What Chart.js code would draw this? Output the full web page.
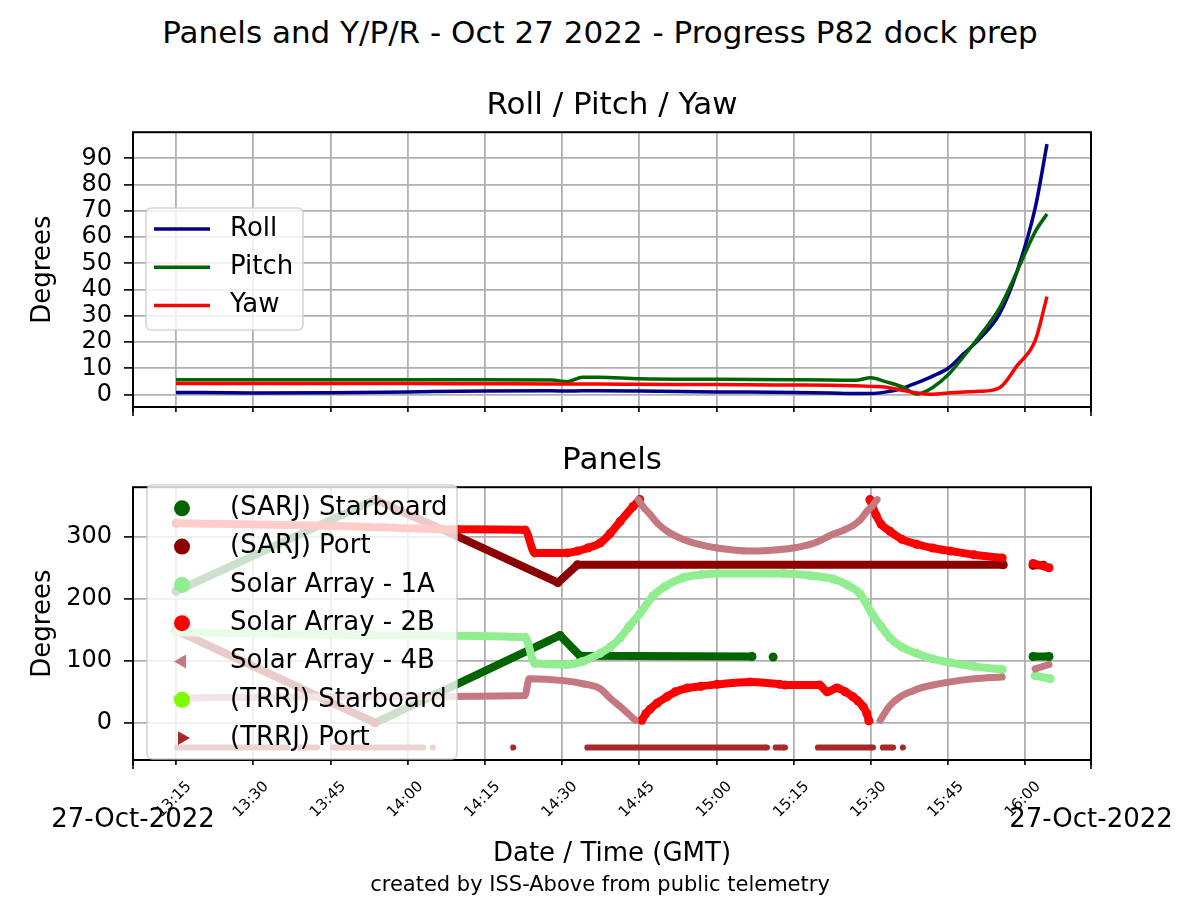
<!DOCTYPE html>
<html>
<head>
<meta charset="utf-8">
<title>Panels and Y/P/R - Oct 27 2022 - Progress P82 dock prep</title>
<script src="https://cdn.jsdelivr.net/npm/chart.js@4.4.1/dist/chart.umd.min.js"></script>
<style>
  body { margin: 0; background: #fff; font-family: 'DejaVu Sans', sans-serif; }
  #page { position: relative; width: 1200px; height: 900px; overflow: hidden; background: #fff; }
  canvas { position: absolute; left: 0; }
  .txt { position: absolute; white-space: nowrap; color: #000; transform: translateX(-50%); }
</style>
</head>
<body>
<div id="page">
  <div class="txt" style="left:600px; top:14px; font-size:31px; line-height:36px;">Panels and Y/P/R - Oct 27 2022 - Progress P82 dock prep</div>
  <canvas id="yprChart" width="1200" height="380" style="top:60px"></canvas>
  <canvas id="panelsChart" width="1200" height="460" style="top:440px"></canvas>
  <div class="txt" style="left:133px; top:803px; font-size:26px; line-height:30px;">27-Oct-2022</div>
  <div class="txt" style="left:1091px; top:803px; font-size:26px; line-height:30px;">27-Oct-2022</div>
  <div class="txt" style="left:600px; top:872px; font-size:21px; line-height:24px;">created by ISS-Above from public telemetry</div>
</div>
<script>
// time is in minutes after 13:00 GMT
const timeTicks = ['13:15', '13:30', '13:45', '14:00', '14:15', '14:30', '14:45', '15:00', '15:15', '15:30', '15:45', '16:00'];
const xMin = 6.65, xMax = 192.75;

// Roll / Pitch / Yaw
const yprTime = [15, 30, 45, 60, 75, 88, 91, 94, 97, 105, 120, 135, 142, 147, 150, 153, 156, 159, 162, 165, 168, 171, 175, 178.4, 181.9, 184.2];
const roll  = [0.8, 0.6, 0.7, 1.0, 1.3, 1.4, 1.3, 1.4, 1.4, 1.3, 1.0, 0.8, 0.6, 0.4, 0.4, 1.0, 2.3, 4.5, 7.0, 10.0, 15.5, 21.0, 30.8, 47.0, 71.0, 95.4];
const pitch = [5.6, 5.6, 5.6, 5.6, 5.6, 5.5, 4.9, 6.6, 6.6, 6.0, 5.8, 5.6, 5.5, 5.4, 6.4, 4.8, 3.0, 0.2, 2.7, 7.5, 14.5, 22.0, 33.0, 47.0, 62.0, 68.8];
const yaw   = [4.2, 4.2, 4.2, 4.2, 4.1, 4.0, 4.0, 4.0, 4.0, 3.9, 3.8, 3.6, 3.5, 3.3, 3.1, 2.8, 1.6, 0.6, 0.1, 0.6, 1.0, 1.2, 2.6, 11.0, 20.5, 37.3];

// Panels (null = gap / wrap-around)
const sarjStbdT = [15, 53.7, 53.7, 53.7, 89.6, 93.5, 126.9, 129, 131, 133, 181.5, 184.6];
const sarjStbdV = [212, 360, null, 0, 141, 108, 107, null, 106, null, 107, 107];

const sarjPortT = [15, 53.7, 53.7, 53.7, 69.6, 89.2, 93, 175.7, 178, 181.5, 183.5];
const sarjPortV = [149, 0, null, 360, 301, 226, 255, 255, null, 254, 254];

const array1AT = [15, 60, 82.8, 84.7, 91, 94, 97.4, 99.3, 101.3, 103, 105.1, 107.7, 110, 113.5, 117, 120.1, 132.9, 138, 142.6, 145.5, 147.9, 150.2, 152, 153.7, 156, 158.9, 162, 165.4, 170, 175.5, 178, 181.9, 184.8];
const array1AV = [146, 141, 138, 96, 94, 99, 112, 122, 137, 155, 176, 205, 220, 234, 239, 241, 241, 238, 232, 222, 208, 176, 155, 137, 122, 112, 103, 97, 91, 86, null, 76, 71];

const array2BT = [15, 45, 69.6, 82.8, 84.7, 91, 93, 95, 97.4, 99.3, 101.3, 103.8, 105.1, 105.3,
                  105.5, 106.3, 107.1, 108.5, 110.4, 112, 114.3, 117, 120.1, 126.5, 132.3, 132.8,
                  133.3, 140, 141.5, 143.4, 145, 146.5, 147.5, 148.5, 149.2, 149.6, 149.7,
                  149.8, 151, 152, 153.7, 156, 158.9, 162, 165.4, 170, 175.5, 178, 181.5, 184.6];
const array2BV = [322, 318, 312, 311, 274, 274, 277, 282, 290, 305, 325, 349, 360, null,
                  4, 15, 22, 32, 42, 50, 56, 59, 62, 66, 62, null,
                  61, 61, 50, 56, 50, 42, 35, 26, 15, 3, null,
                  360, 335, 320, 309, 296, 288, 282, 277, 271, 266, null, 257, 250];

const array4BT = [15, 45, 82.8, 83.6, 90.2, 94, 97.4, 99.3, 101.3, 102.8, 104.2, 104.6,
                  104.8, 105.8, 107, 108.5, 110.4, 113.5, 116, 120.1, 126.5, 130, 134.9, 139, 142.6, 144.5, 146.5, 148, 149.2, 150.3, 151.2, 151.5,
                  151.8, 152.7, 153.7, 155.7, 158, 160, 165.4, 170, 175.5, 178, 181.9, 184.6];
const array4BV = [40, 42, 44, 71, 68, 63, 55, 40, 26, 15, 4, null,
                  360, 348, 337, 322, 309, 296, 289, 282, 277, 278, 282, 290, 304, 310, 318, 328, 341, 350, 360, null,
                  4, 16, 28, 42, 51, 57, 66, 71, 74, null, 87, 94];

const trrjStbdT = [];
const trrjStbdV = [];

const trrjPortT = [15.2, 36.6, 37.5, 39.1, 42.4, 43.5, 45.5, 63, 64, 64.9, 66, 80.5, 82, 94.9, 129.8, 130.5, 131.5, 133.3, 136, 139.7, 150.4, 151.5, 152.3, 154.3, 155, 156.2];
const trrjPortV = [-40, -40, null, -40, -40, null, -40, -40, null, -40, null, -40, null, -40, -40, null, -40, -40, null, -40, -40, null, -40, -40, null, -40];

Chart.defaults.font.family = "'DejaVu Sans', sans-serif";
Chart.defaults.color = '#000';

const tickMinutes = timeTicks.map(s => { const [h, m] = s.split(':').map(Number); return h * 60 + m - 780; });
const pts = (t, v) => t.map((x, i) => ({ x: x, y: v[i] }));

function roundRect(ctx, x, y, w, h, r) {
    ctx.beginPath();
    ctx.moveTo(x + r, y);
    ctx.arcTo(x + w, y, x + w, y + h, r);
    ctx.arcTo(x + w, y + h, x, y + h, r);
    ctx.arcTo(x, y + h, x, y, r);
    ctx.arcTo(x, y, x + w, y, r);
    ctx.closePath();
}

function drawMarker(ctx, style, rot, x, y, r, color) {
    ctx.fillStyle = color;
    ctx.beginPath();
    if (style === 'triangle') {
        for (let k = 0; k < 3; k++) {
            const a = (rot + k * 120) * Math.PI / 180;
            const px = x + r * Math.sin(a), py = y - r * Math.cos(a);
            if (k === 0) ctx.moveTo(px, py); else ctx.lineTo(px, py);
        }
        ctx.closePath();
    } else {
        ctx.arc(x, y, r, 0, Math.PI * 2);
    }
    ctx.fill();
}

// matplotlib-like frame, end ticks and legend box
const mplPlugin = {
    id: 'mpl',
    afterDatasetsDraw(chart, args, opts) {
        const { ctx, chartArea: a } = chart;
        ctx.save();
        ctx.strokeStyle = '#000';
        ctx.lineWidth = 2;
        ctx.strokeRect(a.left, a.top, a.right - a.left, a.bottom - a.top);
        ctx.beginPath();
        [a.left, a.right].forEach(x => { ctx.moveTo(x, a.bottom); ctx.lineTo(x, a.bottom + 9); });
        ctx.lineWidth = 1.6;
        ctx.stroke();

        const lg = opts.box;
        if (lg) {
            roundRect(ctx, lg.x, lg.y, lg.w, lg.h, 5);
            ctx.fillStyle = 'rgba(255,255,255,0.8)';
            ctx.fill();
            ctx.strokeStyle = 'rgba(204,204,204,0.8)';
            ctx.lineWidth = 1.6;
            ctx.stroke();
            ctx.font = "26px 'DejaVu Sans'";
            ctx.textBaseline = 'middle';
            chart.data.datasets.forEach((ds, i) => {
                const y = lg.firstRow + i * lg.rowH;
                if (lg.kind === 'line') {
                    ctx.strokeStyle = ds.borderColor;
                    ctx.lineWidth = 3.5;
                    ctx.beginPath();
                    ctx.moveTo(lg.markX - 28, y);
                    ctx.lineTo(lg.markX + 28, y);
                    ctx.stroke();
                } else {
                    drawMarker(ctx, ds.pointStyle, ds.pointRotation || 0, lg.markX, y, 8, ds.borderColor);
                }
                ctx.fillStyle = '#000';
                ctx.fillText(ds.label, lg.textX, y);
            });
        }
        ctx.restore();
    }
};

const gridStyle = { color: '#b0b0b0', lineWidth: 1.8, tickColor: '#000', tickWidth: 1.6 };

function xScale(showLabels, height, withTitle) {
    return {
        type: 'linear',
        min: xMin,
        max: xMax,
        afterBuildTicks: s => { s.ticks = [xMin, ...tickMinutes, xMax].map(v => ({ value: v })); },
        afterFit: s => { s.height = height; },
        border: { display: false },
        grid: Object.assign({ tickLength: 5 }, gridStyle),
        ticks: {
            display: showLabels,
            autoSkip: false,
            minRotation: 45,
            maxRotation: 45,
            labelOffset: 13,
            padding: 13,
            font: { size: 15 },
            callback: (v, i, ticks) => (i === 0 || i === ticks.length - 1) ? '' : timeTicks[i - 1]
        },
        title: withTitle ? { display: true, text: 'Date / Time (GMT)', font: { size: 26 }, padding: { top: 0, bottom: 30 } } : { display: false }
    };
}

function yScale(min, max, tickVals) {
    return {
        min: min,
        max: max,
        afterBuildTicks: s => { s.ticks = tickVals.map(v => ({ value: v })); },
        afterFit: s => { s.width = 133; },
        border: { display: false },
        grid: Object.assign({ tickLength: 9 }, gridStyle),
        ticks: { font: { size: 24 }, padding: 12, autoSkip: false },
        title: { display: true, text: 'Degrees', font: { size: 26 }, padding: { top: 28, bottom: 0 } }
    };
}

function lineSet(label, values, color, i) {
    return {
        label: label,
        data: pts(yprTime, values),
        borderColor: color,
        backgroundColor: color,
        borderWidth: 3.5,
        pointRadius: 0,
        showLine: true,
        cubicInterpolationMode: 'monotone',
        order: -i
    };
}

new Chart(document.getElementById('yprChart').getContext('2d'), {
    type: 'scatter',
    data: {
        datasets: [
            lineSet('Roll', roll, '#00008b', 0),
            lineSet('Pitch', pitch, '#006400', 1),
            lineSet('Yaw', yaw, '#ff0000', 2)
        ]
    },
    options: {
        responsive: false,
        animation: false,
        devicePixelRatio: 1,
        layout: { padding: { left: 0, right: 109, top: 0, bottom: 0 } },
        scales: {
            x: xScale(false, 33, false),
            y: yScale(-4.76, 99.96, [0, 10, 20, 30, 40, 50, 60, 70, 80, 90])
        },
        plugins: {
            legend: { display: false },
            tooltip: { enabled: false },
            title: {
                display: true,
                fullSize: false,
                text: 'Roll / Pitch / Yaw',
                font: { size: 31, weight: 'normal' },
                padding: { top: 27, bottom: 8 }
            },
            mpl: { box: { kind: 'line', x: 146, y: 148, w: 157, h: 122, firstRow: 169, rowH: 38.3, markX: 182, textX: 230 } }
        }
    },
    plugins: [mplPlugin]
});

function dotSet(label, t, v, color, i, style, rot, width, smooth) {
    return {
        label: label,
        data: pts(t, v),
        borderColor: color,
        backgroundColor: color,
        pointBackgroundColor: color,
        pointBorderWidth: 0,
        pointRadius: width / 2 + 0.5,
        pointStyle: style,
        pointRotation: rot,
        borderWidth: width,
        borderCapStyle: 'round',
        borderJoinStyle: 'round',
        cubicInterpolationMode: smooth ? 'monotone' : 'default',
        tension: 0,
        showLine: true,
        order: -i
    };
}

new Chart(document.getElementById('panelsChart').getContext('2d'), {
    type: 'scatter',
    data: {
        datasets: [
            dotSet('(SARJ) Starboard', sarjStbdT, sarjStbdV, '#006400', 0, 'circle', 0, 8, false),
            dotSet('(SARJ) Port', sarjPortT, sarjPortV, '#8b0000', 1, 'circle', 0, 8, false),
            dotSet('Solar Array - 1A', array1AT, array1AV, '#90ee90', 2, 'circle', 0, 8, true),
            dotSet('Solar Array - 2B', array2BT, array2BV, '#ff0000', 3, 'circle', 0, 8, true),
            dotSet('Solar Array - 4B', array4BT, array4BV, '#c4787f', 4, 'triangle', -90, 7, true),
            dotSet('(TRRJ) Starboard', trrjStbdT, trrjStbdV, '#7cfc00', 5, 'circle', 0, 8, false),
            dotSet('(TRRJ) Port', trrjPortT, trrjPortV, '#a52a2a', 6, 'triangle', 90, 6, false)
        ]
    },
    options: {
        responsive: false,
        animation: false,
        devicePixelRatio: 1,
        layout: { padding: { left: 0, right: 109, top: 0, bottom: 0 } },
        scales: {
            x: xScale(true, 140, true),
            y: yScale(-60, 380, [0, 100, 200, 300])
        },
        plugins: {
            legend: { display: false },
            tooltip: { enabled: false },
            title: {
                display: true,
                fullSize: false,
                text: 'Panels',
                font: { size: 31, weight: 'normal' },
                padding: { top: 2, bottom: 8 }
            },
            mpl: { box: { kind: 'marker', x: 147, y: 45, w: 310, h: 274, firstRow: 68.3, rowH: 38.3, markX: 182, textX: 230 } }
        }
    },
    plugins: [mplPlugin]
});
</script>
</body>
</html>
